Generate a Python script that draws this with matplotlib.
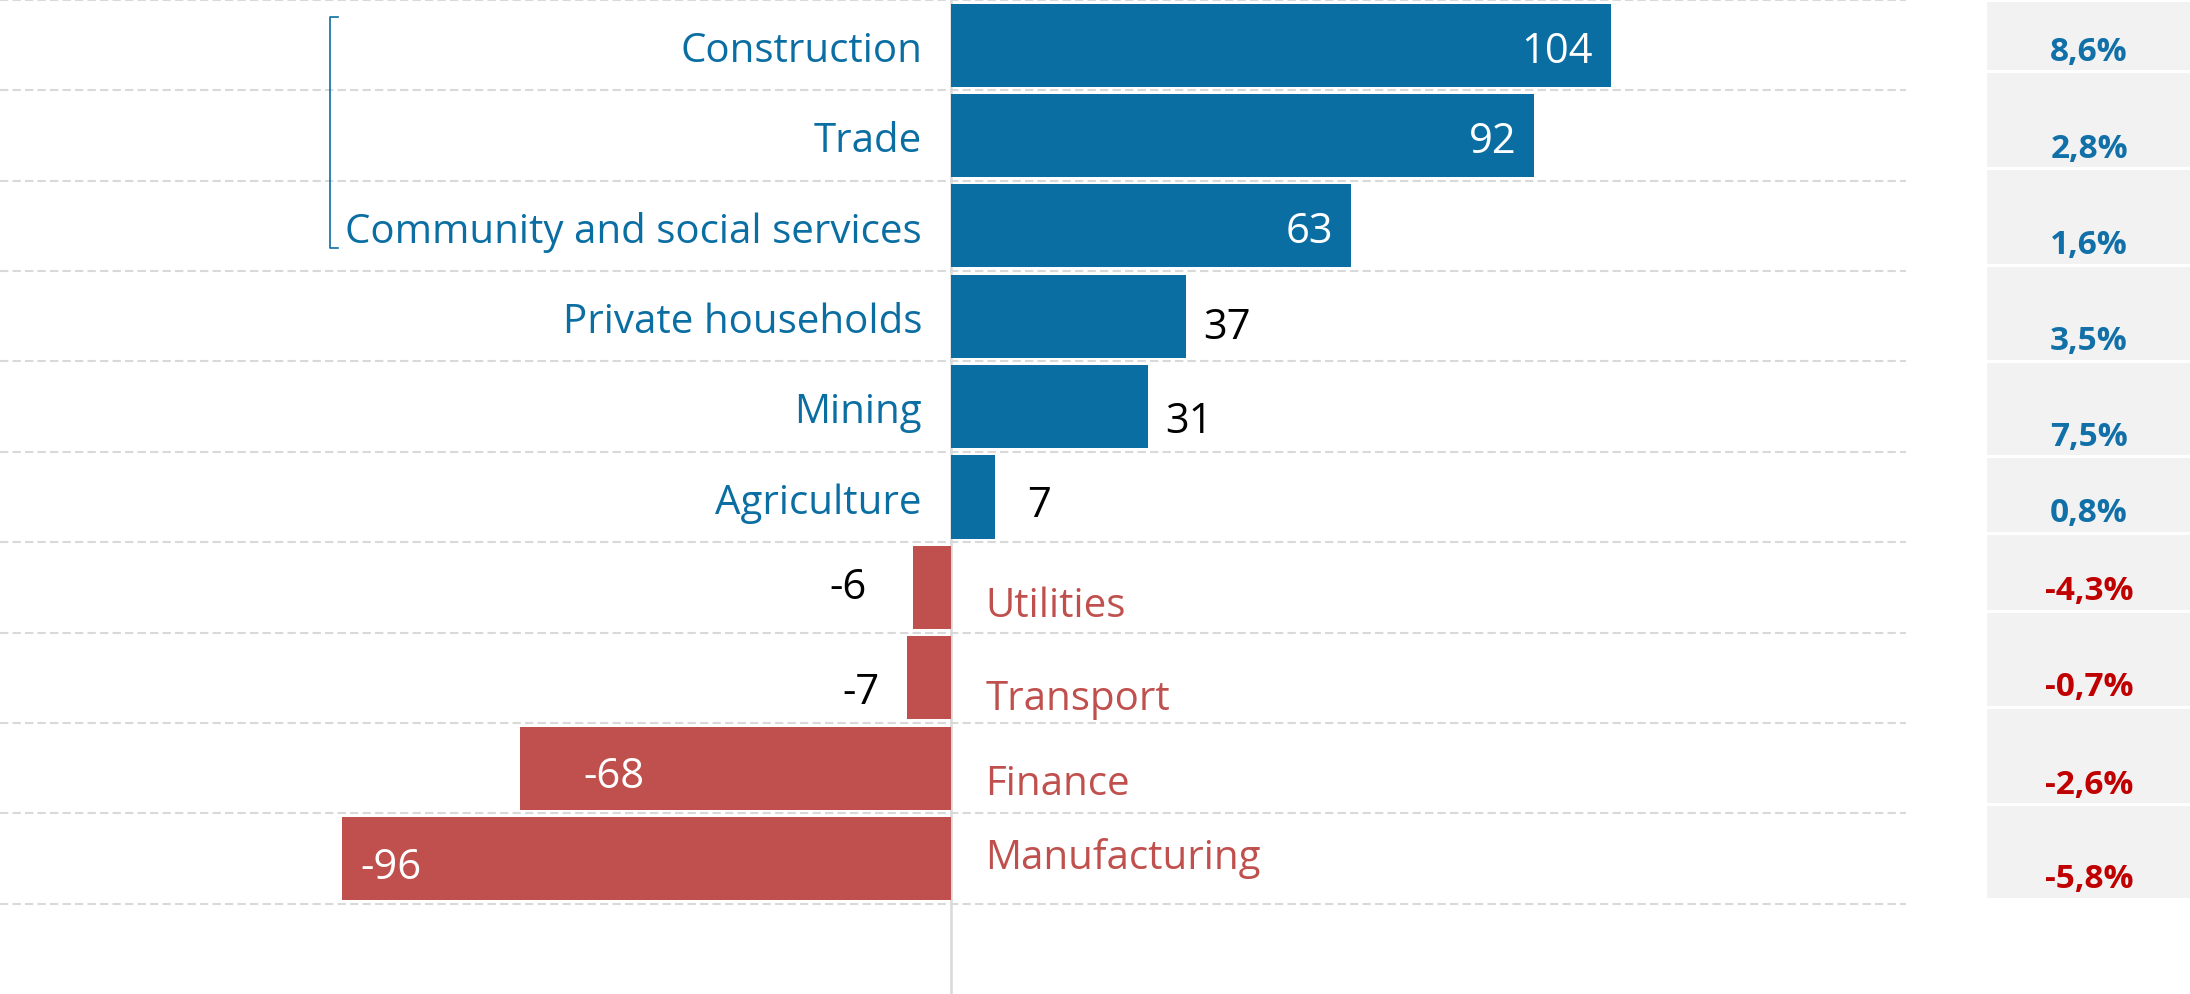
import numpy as np
import matplotlib
matplotlib.use("Agg")
import matplotlib.pyplot as plt
from matplotlib.patches import Rectangle

plt.rcParams['font.family'] = ['Open Sans', 'DejaVu Sans']

# data
categories = ["Construction", "Trade", "Community and social services",
              "Private households", "Mining", "Agriculture",
              "Utilities", "Transport", "Finance", "Manufacturing"]
values = [104, 92, 63, 37, 31, 7, -6, -7, -68, -96]
pct_labels = ["8,6%", "2,8%", "1,6%", "3,5%", "7,5%", "0,8%",
              "-4,3%", "-0,7%", "-2,6%", "-5,8%"]

# colours
blue = "#0B6EA3"
red = "#C0504D"
pct_blue = "#1170A8"
pct_red = "#C00000"
grid_col = "#D9D9D9"

# hand placed label tweaks (x offset in data units, y offset in rows)
lab_dx = [-2.8, -2.8, -2.8, 2.8, 2.8, 5.0, -7.3, -4.2, 10.0, 2.9]
lab_dy = [0.0, 0.0, 0.0, 0.06, 0.1, 0.03, -0.06, 0.1, 0.03, 0.04]
cat_dy = [0, 0, 0, 0, 0, 0, 0.14, 0.17, 0.11, -0.07]
shift = 0.07

W, H = 2190, 994
fig = plt.figure(figsize=(W / 100, H / 100), dpi=100)
ax = fig.add_axes([0, 0, 1906 / W, 1])
ax.set_xlim(-150, 150.6)
ax.set_ylim(10.5, -0.5)
ax.axis('off')

rows = np.arange(len(categories))
colors = [blue if v > 0 else red for v in values]
ax.barh(rows, values, height=0.92, color=colors, zorder=3)

# dashed row separators and zero line
for b in np.arange(-0.5, len(categories), 1.0):
    ax.axhline(b, color=grid_col, lw=1.5, ls=(0, (4, 2)), zorder=1)
ax.axvline(0, color=grid_col, lw=1.8, zorder=2)

for i, (cat, v) in enumerate(zip(categories, values)):
    # category labels
    if v > 0:
        ax.text(-4.6, i + cat_dy[i] + shift, cat, ha='right', va='center',
                fontsize=29, color=blue, zorder=4)
    else:
        ax.text(5.4, i + cat_dy[i] + shift, cat, ha='left', va='center',
                fontsize=29, color=red, zorder=4)
    # value labels
    x = v + lab_dx[i]
    inside = abs(v) > 50
    if v > 0:
        ha = 'right' if inside else 'left'
    else:
        ha = 'left' if inside else 'right'
    ax.text(x, i + lab_dy[i] + shift, str(v), ha=ha, va='center', fontsize=30,
            color='white' if inside else 'black', zorder=4)

# bracket round the top three categories
bx = -98
ax.plot([bx + 1.3, bx, bx, bx + 1.3], [-0.31, -0.31, 2.24, 2.24],
        color=blue, lw=1.2, zorder=4)

# side panel with shares
pax = fig.add_axes([1987 / W, 0, (W - 1987) / W, 1])
pax.set_xlim(0, W - 1987)
pax.set_ylim(H, 0)
pax.axis('off')
panel_edges = [0, 71.6, 168, 265, 361, 456, 533, 611, 707, 804, 899]
for k in range(len(pct_labels)):
    top, bot = panel_edges[k], panel_edges[k + 1]
    pax.add_patch(Rectangle((0, top + 1.5), W - 1987, bot - top - 3,
                            facecolor="#F2F2F2", edgecolor='none'))
    neg = pct_labels[k].startswith('-')
    pax.text(102, bot - 19, pct_labels[k], ha='center',
             va='center', fontsize=24, fontweight='bold',
             color=pct_red if neg else pct_blue)

fig.savefig("out.png", dpi=100)
